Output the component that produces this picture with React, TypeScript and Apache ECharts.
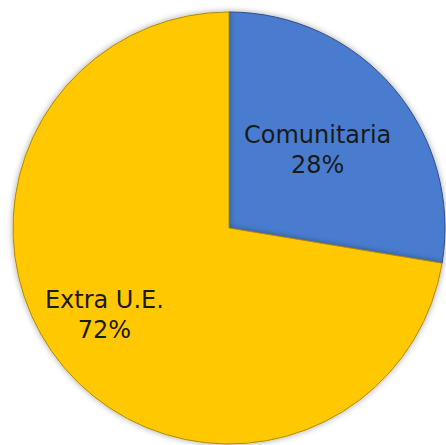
import React, { useEffect, useRef } from "react";
import * as echarts from "echarts";

const categories = ["Comunitaria", "Extra U.E."];
const values = [27.6, 72.4];
const colors = ["#4a7bcf", "#ffc800"];
const labelOffsets = [[4, -6], [-40, 15]];

export default function App() {
  const ref = useRef<HTMLDivElement>(null);
  useEffect(() => {
    const chart = echarts.init(ref.current!, null, { renderer: "svg" });
    chart.setOption({
      animation: false,
      backgroundColor: "#ffffff",
      series: [
        {
          type: "pie",
          center: [229, 228],
          radius: [0, 216],
          startAngle: 90,
          clockwise: true,
          silent: true,
          data: categories.map((name, i) => ({
            name,
            value: values[i],
            itemStyle: {
              color: colors[i],
              borderColor: i === 0 ? "#2f4f86" : "#b08a00",
              borderWidth: 1,
              shadowBlur: 6,
              shadowColor: "rgba(0,0,0,0.35)",
            },
            label: { offset: labelOffsets[i] },
          })),
          label: {
            show: true,
            position: "inside",
            formatter: (p: any) => `${p.name}\n${Math.round(p.percent)}%`,
            fontFamily: "DejaVu Sans",
            fontSize: 24,
            lineHeight: 30,
            color: "#1a1a1a",
            align: "center",
          },
          labelLine: { show: false },
        },
      ],
    });
    return () => chart.dispose();
  }, []);
  return (
    <div
      ref={ref}
      style={{ position: "fixed", left: 0, top: 0, width: 446, height: 445 }}
    />
  );
}
